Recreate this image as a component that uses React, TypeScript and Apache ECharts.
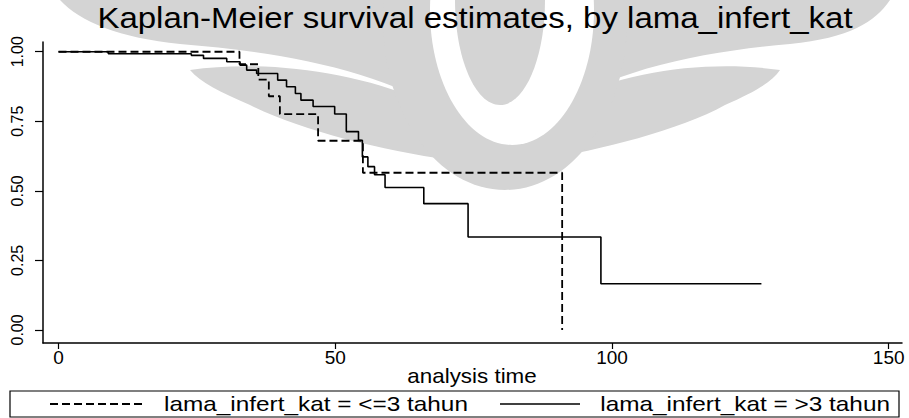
import React, { useEffect, useRef } from "react";
import * as echarts from "echarts";

const titleText = "Kaplan-Meier survival estimates, by lama_infert_kat";
const xAxisName = "analysis time";
const xTicks = [0, 50, 100, 150];
const yTicks = [0, 0.25, 0.5, 0.75, 1];
const legendNames = ["lama_infert_kat = <=3 tahun", "lama_infert_kat = >3 tahun"];

// lama_infert_kat = <=3 tahun (dashed)
const timeShort = [0, 32.7, 36.1, 38.0, 40.0, 46.9, 55.0, 91.0];
const survShort = [1.0, 0.955, 0.9, 0.84, 0.776, 0.68, 0.565, 0.0];

// lama_infert_kat = >3 tahun (solid)
const timeLong = [0, 9, 24, 26.2, 30.4, 32.8, 34.0, 35.8, 39.6, 41.2, 42.8, 43.8, 46.0, 49.9, 52.0, 54.2, 54.9, 55.9, 57.1, 59.0, 66.0, 74.0, 98.0, 127.0];
const survLong = [1.0, 0.993, 0.987, 0.976, 0.964, 0.952, 0.934, 0.922, 0.898, 0.874, 0.85, 0.826, 0.803, 0.776, 0.713, 0.682, 0.622, 0.587, 0.558, 0.512, 0.454, 0.334, 0.166, 0.166];

const FONT = "'Liberation Sans', Arial, sans-serif";
const GREY = "#d4d4d4";

const wingLeftOuter = "M 60 0 L 430 0 C 420 40 430 80 450 115 C 380 70 280 52 180 44 C 120 38 80 22 60 0 Z";
const wingLeftInner = "M 190 70 C 260 60 350 70 420 100 C 430 125 440 145 450 160 C 380 150 300 130 250 105 C 220 92 200 82 190 70 Z";
const wingRightOuter = "M 890 0 L 560 0 C 570 40 560 80 545 115 C 610 70 700 52 790 44 C 850 38 875 22 890 0 Z";
const wingRightInner = "M 780 70 C 710 60 630 70 565 100 C 555 125 548 145 540 160 C 600 150 680 130 725 105 C 755 92 772 82 780 70 Z";

let registered = false;
function registerShapes() {
  if (registered) return;
  registered = true;
  echarts.graphic.registerShape("wingLO", echarts.graphic.extendPath(wingLeftOuter, {}) as any);
  echarts.graphic.registerShape("wingLI", echarts.graphic.extendPath(wingLeftInner, {}) as any);
  echarts.graphic.registerShape("wingRO", echarts.graphic.extendPath(wingRightOuter, {}) as any);
  echarts.graphic.registerShape("wingRI", echarts.graphic.extendPath(wingRightInner, {}) as any);
}

export default function App() {
  const ref = useRef<HTMLDivElement>(null);
  useEffect(() => {
    if (!ref.current) return;
    let ok = true;
    try {
      registerShapes();
    } catch (e) {
      ok = false;
    }
    const chart = echarts.init(ref.current, undefined, { renderer: "svg" });
    const shortData = timeShort.map((t, i) => [t, survShort[i]]);
    const longData = timeLong.map((t, i) => [t, survLong[i]]);

    const watermark: any[] = [];
    if (ok) {
      ["wingLO", "wingLI", "wingRO", "wingRI"].forEach((t) => {
        watermark.push({ type: t, x: 0, y: 0, style: { fill: GREY }, z: -10, silent: true });
      });
    }
    watermark.push(
      { type: "ellipse", shape: { cx: 505, cy: 20, rx: 122, ry: 170 }, style: { fill: GREY }, z: -9, silent: true },
      { type: "ellipse", shape: { cx: 512, cy: 10, rx: 82, ry: 135 }, style: { fill: "#ffffff" }, z: -8, silent: true },
      { type: "ellipse", shape: { cx: 500, cy: 0, rx: 45, ry: 105 }, style: { fill: GREY }, z: -7, silent: true }
    );

    const legendY = 404;
    const legendEls: any[] = [
      { type: "rect", shape: { x: 10, y: 391, width: 889, height: 26 }, style: { fill: "none", stroke: "#000", lineWidth: 1.2 }, z: 5 },
      { type: "line", shape: { x1: 50, y1: legendY, x2: 145, y2: legendY }, style: { stroke: "#000", lineWidth: 1.8, lineDash: [8, 4] }, z: 5 },
      { type: "text", x: 164, y: legendY, scaleX: 1.16, style: { text: legendNames[0], font: `21px ${FONT}`, fill: "#000", textVerticalAlign: "middle" }, z: 5 },
      { type: "line", shape: { x1: 500, y1: legendY, x2: 580, y2: legendY }, style: { stroke: "#000", lineWidth: 1.6 }, z: 5 },
      { type: "text", x: 890, y: legendY, scaleX: 1.16, style: { text: legendNames[1], font: `21px ${FONT}`, fill: "#000", textAlign: "right", textVerticalAlign: "middle" }, z: 5 },
    ];

    chart.setOption({
      animation: false,
      backgroundColor: "#ffffff",
      graphic: [
        ...watermark,
        { type: "text", x: 475, y: 18, scaleX: 1.1, style: { text: titleText, font: `30px ${FONT}`, fill: "#000", textAlign: "center", textVerticalAlign: "middle" }, z: 5 },
        { type: "text", x: 472, y: 376, scaleX: 1.12, style: { text: xAxisName, font: `20px ${FONT}`, fill: "#000", textAlign: "center", textVerticalAlign: "middle" }, z: 5 },
        ...legendEls,
      ],
      grid: { left: 43, right: 7, top: 42, bottom: 75, containLabel: false },
      xAxis: {
        type: "value",
        min: -2.8,
        max: 152.4,
        axisLine: { show: true, onZero: false, lineStyle: { color: "#000", width: 1.5 } },
        axisTick: { show: true, length: 6, lineStyle: { color: "#000", width: 1.2 }, customValues: xTicks },
        axisLabel: { show: true, customValues: xTicks, fontFamily: FONT, fontSize: 19, color: "#000", margin: 5, formatter: (v: number) => String(v) },
        splitLine: { show: false },
      },
      yAxis: {
        type: "value",
        min: -0.047,
        max: 1.035,
        axisLine: { show: true, onZero: false, lineStyle: { color: "#000", width: 1.5 } },
        axisTick: { show: true, length: 8, lineStyle: { color: "#000", width: 1.2 }, customValues: yTicks },
        axisLabel: { show: true, customValues: yTicks, rotate: 90, fontFamily: FONT, fontSize: 16, color: "#000", margin: 18, formatter: (v: number) => v.toFixed(2) },
        splitLine: { show: false },
      },
      series: [
        {
          name: legendNames[0],
          type: "line",
          step: "end",
          symbol: "none",
          data: shortData,
          lineStyle: { color: "#000", width: 1.8, type: [8, 4] },
          z: 3,
        },
        {
          name: legendNames[1],
          type: "line",
          step: "end",
          symbol: "none",
          data: longData,
          lineStyle: { color: "#000", width: 1.6 },
          z: 4,
        },
      ],
    });
    return () => chart.dispose();
  }, []);
  return <div ref={ref} style={{ position: "fixed", left: 0, top: 0, width: 909, height: 418 }} />;
}
